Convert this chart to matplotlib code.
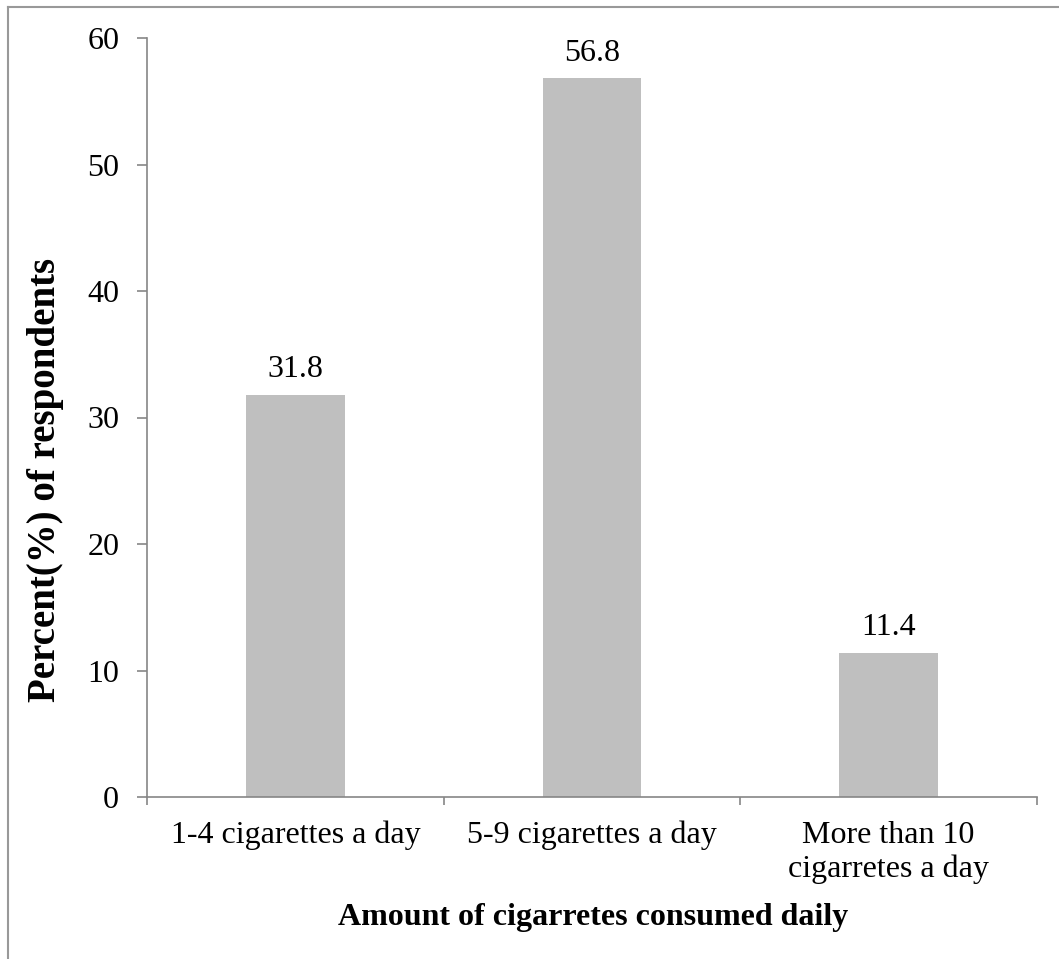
import matplotlib.pyplot as plt
from matplotlib.lines import Line2D

# Data
categories = ['1-4 cigarettes a day', '5-9 cigarettes a day', 'More than 10\ncigarretes a day']
percent = [31.8, 56.8, 11.4]
y_ticks = [0, 10, 20, 30, 40, 50, 60]

plt.rcParams['font.family'] = ['Liberation Serif', 'DejaVu Serif']
axis_grey = '#868686'
fs = 23

fig = plt.figure(figsize=(10.59, 9.59), dpi=100)
ax = fig.add_axes([147 / 1059, 1 - 797 / 959, (1037 - 147) / 1059, (797 - 38) / 959])

x = list(range(len(categories)))
bars = ax.bar(x, percent, width=0.333, color='#BFBFBF')

for b, v in zip(bars, percent):
    ax.text(b.get_x() + b.get_width() / 2, v + 1.4, f'{v:.1f}',
            ha='center', va='baseline', fontsize=fs)

ax.set_xlim(-0.5, len(categories) - 0.5)
ax.set_ylim(0, 60)
ax.set_yticks(y_ticks)
ax.tick_params(axis='y', labelsize=fs, length=7, width=1.2, color=axis_grey, pad=13)

# category labels in the middle, ticks at category boundaries
ax.set_xticks(x)
ax.set_xticklabels(categories, fontsize=fs, linespacing=1.22)
ax.tick_params(axis='x', which='major', length=0, pad=17)
ax.set_xticks([i - 0.5 for i in range(len(categories) + 1)], minor=True)
ax.tick_params(axis='x', which='minor', length=6, width=1.2, color=axis_grey)

ax.spines['top'].set_visible(False)
ax.spines['right'].set_visible(False)
ax.spines['left'].set_color(axis_grey)
ax.spines['bottom'].set_color(axis_grey)
ax.spines['left'].set_linewidth(1.2)
ax.spines['bottom'].set_linewidth(1.2)

fig.text(46 / 1059, 1 - 480 / 959, 'Percent(%) of respondents', rotation=90,
         ha='center', va='center', fontsize=28, fontweight='bold')
fig.text(593 / 1059, 1 - 925 / 959, 'Amount of cigarretes consumed daily',
         ha='center', va='baseline', fontsize=fs, fontweight='bold')

# chart frame (only top and left edges are visible in the reference)
fig.add_artist(Line2D([8 / 1059, 1], [1 - 7 / 959, 1 - 7 / 959], color='#999999', lw=1.5))
fig.add_artist(Line2D([8 / 1059, 8 / 1059], [0, 1 - 7 / 959], color='#999999', lw=1.5))

fig.savefig('out.png', dpi=100)
